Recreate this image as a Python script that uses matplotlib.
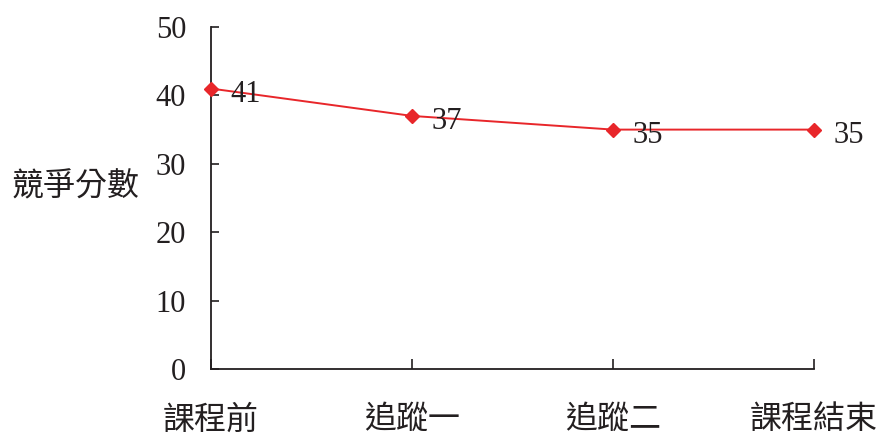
import matplotlib
matplotlib.use("Agg")
import matplotlib.pyplot as plt

plt.rcParams['font.family'] = ['Liberation Serif', 'Noto Sans CJK TC']

stages = ["課程前", "追蹤一", "追蹤二", "課程結束"]
scores = [41, 37, 35, 35]
y_ticks = [0, 10, 20, 30, 40, 50]

fig = plt.figure(figsize=(8.8, 4.37), dpi=100)
ax = fig.add_axes([0.2398, 0.1556, 0.6852, 0.7826])

x = list(range(len(stages)))
ax.plot(x, scores, color="#e8262a", linewidth=1.4, marker="D", markersize=7,
        markerfacecolor="#e8262a", markeredgecolor="#e8262a", clip_on=False, zorder=3)

for xi, v in zip(x, scores):
    ax.annotate(str(v), (xi, v), xytext=(14, -4), textcoords="offset points",
                ha="left", va="center", fontsize=22, color="#231f20")

ax.set_xlim(0, len(stages) - 1)
ax.set_ylim(0, 50)
ax.set_yticks(y_ticks)
ax.set_xticks(x)
ax.set_xticklabels(stages)
ax.tick_params(axis="both", direction="in", labelsize=22, colors="#231f20",
               width=1.2, length=6)
ax.tick_params(axis="x", pad=26, length=7, labelsize=23)
ax.tick_params(axis="y", pad=18)

for side in ("top", "right"):
    ax.spines[side].set_visible(False)
for side in ("left", "bottom"):
    ax.spines[side].set_color("#231f20")
    ax.spines[side].set_linewidth(1.3)

fig.text(76 / 880, 1 - 187 / 437, "競爭分數", ha="center", va="center",
         fontsize=23, color="#231f20")

fig.savefig("out.png", dpi=100, facecolor="white")
